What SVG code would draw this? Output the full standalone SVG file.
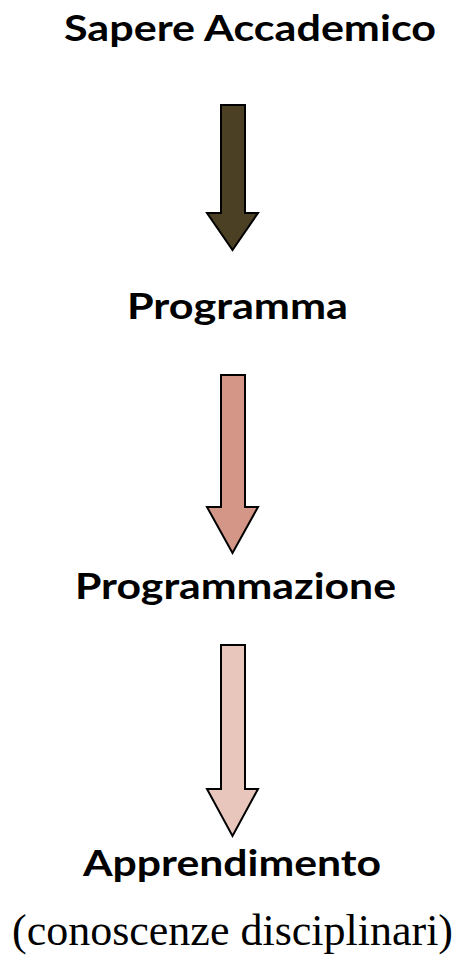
<svg xmlns="http://www.w3.org/2000/svg" width="465" height="962" viewBox="0 0 465 962">
<style>
.lbl{font-family:"Lato","Open Sans","Liberation Sans",sans-serif;font-weight:bold;font-size:36px;fill:#000}
.sub{font-family:"Liberation Serif","Times New Roman",serif;font-size:44px;fill:#000}
.arr{stroke:#000;stroke-width:2;stroke-linejoin:miter}
</style>
<rect width="465" height="962" fill="#fff"/>
<g id="connectors">
<polygon class="arr" fill="#4b4024" points="221,105 245,105 245,213 258,213 232.5,250 207,213 221,213"/>
<polygon class="arr" fill="#d49686" points="221,375 245,375 245,507 258,507 232.5,553 207,507 221,507"/>
<polygon class="arr" fill="#e8c6bc" points="221,645 245,645 245,789 258,789 232.5,836 207,789 221,789"/>
</g>
<g id="n1"><text class="lbl" x="64" y="41" textLength="372" lengthAdjust="spacingAndGlyphs">Sapere Accademico</text></g>
<g id="n2"><text class="lbl" x="127" y="319" textLength="221" lengthAdjust="spacingAndGlyphs">Programma</text></g>
<g id="n3"><text class="lbl" x="75" y="599" textLength="321" lengthAdjust="spacingAndGlyphs">Programmazione</text></g>
<g id="n4"><text class="lbl" x="83" y="876" textLength="298" lengthAdjust="spacingAndGlyphs">Apprendimento</text>
<text class="sub" x="232.5" y="945" text-anchor="middle">(conoscenze disciplinari)</text></g>
</svg>
